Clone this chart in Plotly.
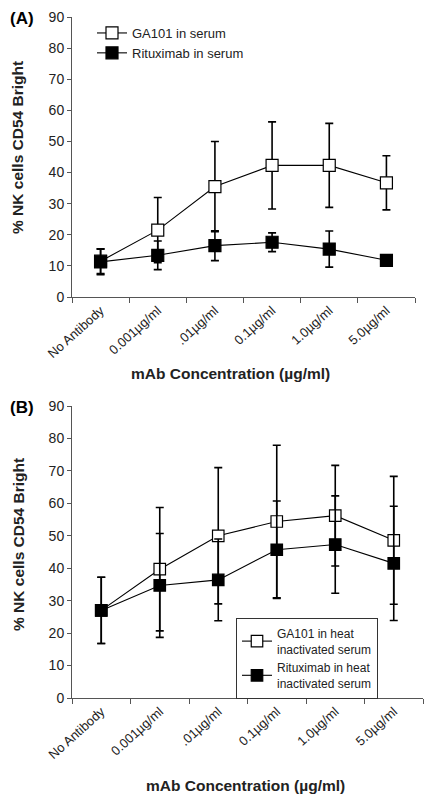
import plotly.graph_objects as go

categories = ["No Antibody", "0.001µg/ml", ".01µg/ml", "0.1µg/ml", "1.0µg/ml", "5.0µg/ml"]

# Panel A (serum)
ga_a = [11.5, 21.5, 35.5, 42.3, 42.3, 36.7]
ga_a_err = [4.0, 10.5, 14.5, 14.0, 13.5, 8.7]
rit_a = [11.3, 13.4, 16.5, 17.6, 15.4, 11.8]
rit_a_err = [4.1, 4.6, 4.8, 3.0, 5.8, 0.8]

# Panel B (heat inactivated serum)
ga_b = [27.0, 39.7, 50.0, 54.4, 56.2, 48.6]
ga_b_err = [10.2, 19.0, 21.0, 23.5, 15.5, 19.7]
rit_b = [27.0, 34.7, 36.4, 45.7, 47.3, 41.5]
rit_b_err = [10.2, 16.0, 12.6, 15.0, 15.0, 17.6]

yticks = [0, 10, 20, 30, 40, 50, 60, 70, 80, 90]

OFF = 8  # default page body margin
W, H = 433 - OFF, 803 - OFF
FONT = "Liberation Sans, Arial, sans-serif"
TXT = "#222"


def X(px):
    return (px - OFF) / W


def Y(px):
    return 1 - (px - OFF) / H


fig = go.Figure()
xs = list(range(len(categories)))


def add_series(y, err, name, fill, xa, ya, legend, msize):
    fig.add_trace(go.Scatter(
        x=xs, y=y, name=name, mode="lines+markers",
        xaxis=xa, yaxis=ya, legend=legend,
        line=dict(color="black", width=1.1),
        marker=dict(symbol="square", size=msize, color=fill,
                    line=dict(color="black", width=1.2)),
        error_y=dict(type="data", array=err, visible=True,
                     color="black", thickness=1.6, width=4),
    ))


add_series(ga_a, ga_a_err, "GA101 in serum", "white", "x", "y", "legend", 12)
add_series(rit_a, rit_a_err, "Rituximab in serum", "black", "x", "y", "legend", 12)
add_series(ga_b, ga_b_err, "GA101 in heat<br>inactivated serum", "white", "x2", "y2", "legend2", 11.5)
add_series(rit_b, rit_b_err, "Rituximab in heat<br>inactivated serum", "black", "x2", "y2", "legend2", 11.5)

xcommon = dict(
    range=[-0.5, 5.5], tickmode="array", tickvals=xs, ticktext=categories,
    tickangle=-42, ticks="", showline=True, linecolor="#555", linewidth=1,
    showgrid=False, zeroline=False, automargin=False, ticklabeloverflow="allow",
    tickfont=dict(family=FONT, size=13, color=TXT),
    minor=dict(tickmode="array", tickvals=[i - 0.5 for i in range(7)],
               ticks="outside", ticklen=5, tickcolor="#555", tickwidth=1,
               showgrid=False),
)
ycommon = dict(
    range=[0, 90], tickmode="array", tickvals=yticks, ticks="outside",
    ticklen=4, tickcolor="#555", showline=True, linecolor="#555", linewidth=1,
    showgrid=False, zeroline=False, automargin=False, ticklabeloverflow="allow",
    tickfont=dict(family=FONT, size=14, color=TXT),
)

fig.update_layout(
    width=W, height=H, margin=dict(l=0, r=0, t=0, b=0, autoexpand=False),
    paper_bgcolor="white", plot_bgcolor="white",
    xaxis=dict(domain=[X(72), X(415)], anchor="y", **xcommon),
    yaxis=dict(domain=[Y(297), Y(17)], anchor="x", **ycommon),
    xaxis2=dict(domain=[X(72), X(423)], anchor="y2", **xcommon),
    yaxis2=dict(domain=[Y(698), Y(406)], anchor="x2", **ycommon),
    legend=dict(x=X(92), y=Y(18), xanchor="left", yanchor="top",
                bgcolor="rgba(0,0,0,0)", borderwidth=0,
                font=dict(family=FONT, size=13, color=TXT),
                itemwidth=30, tracegroupgap=0),
    legend2=dict(x=X(236), y=Y(618), xanchor="left", yanchor="top",
                 bgcolor="white", bordercolor="#333", borderwidth=1,
                 font=dict(family=FONT, size=12, color=TXT),
                 itemwidth=30),
    showlegend=True,
)

ann = []
ytitle = "<b>% NK cells CD54 Bright</b>"
for yc in (148, 545):
    ann.append(dict(text=ytitle, x=X(18), y=Y(yc), xref="paper", yref="paper",
                    textangle=-90, showarrow=False, xanchor="center", yanchor="middle",
                    font=dict(family=FONT, size=15.5, color=TXT)))
xtitle = "<b>mAb Concentration (µg/ml)</b>"
for xc, yc in ((231, 373), (245, 785)):
    ann.append(dict(text=xtitle, x=X(xc), y=Y(yc), xref="paper", yref="paper",
                    showarrow=False, xanchor="center", yanchor="middle",
                    font=dict(family=FONT, size=15.5, color=TXT)))
for lab, yc in (("(A)", 19), ("(B)", 407)):
    ann.append(dict(text="<b>" + lab + "</b>", x=X(22), y=Y(yc), xref="paper",
                    yref="paper", showarrow=False, xanchor="center", yanchor="middle",
                    font=dict(family=FONT, size=17, color="black")))
fig.update_layout(annotations=ann)

fig.write_html("out.html")
